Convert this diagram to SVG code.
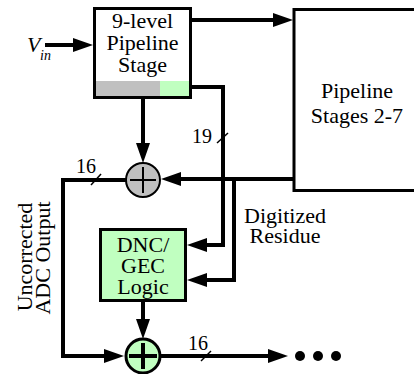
<svg xmlns="http://www.w3.org/2000/svg" width="414" height="374" viewBox="0 0 414 374" font-family="'Liberation Serif', 'DejaVu Serif', serif">
<style>
text{font-family:'Liberation Serif','DejaVu Serif',serif;fill:#000}
.t{font-size:22px;text-anchor:middle}
.n{font-size:20px}
.box{stroke:#000;stroke-width:3}
.c{fill:none;stroke:#000;stroke-width:4;stroke-linejoin:miter}
.tick{stroke:#000;stroke-width:1.5}
</style>
<defs>
<marker id="ah" markerUnits="userSpaceOnUse" markerWidth="22" markerHeight="16" refX="10" refY="7" orient="auto">
<path d="M0,0 L20,7 L0,14 z" fill="#000"/>
</marker>
</defs>
<rect width="414" height="374" fill="#fff"/>

<g id="stage1">
<rect x="94.5" y="8.5" width="96" height="89" fill="#fff" class="box"/>
<rect x="96" y="81" width="64" height="15" fill="#c0c0c0"/>
<rect x="160" y="81" width="29" height="15" fill="#c0ffc0"/>
<text class="t" x="142.5" y="28">9-level</text>
<text class="t" x="142.5" y="50">Pipeline</text>
<text class="t" x="142.5" y="72">Stage</text>
</g>

<g id="stages2-7">
<rect x="294" y="9.5" width="130" height="181" fill="#fff" class="box"/>
<text class="t" x="357" y="98">Pipeline</text>
<text class="t" x="357" y="123">Stages 2-7</text>
</g>

<g id="adder1">
<circle cx="143" cy="180" r="17" fill="#c0c0c0" stroke="#000" stroke-width="2"/>
<path d="M130,180 H156 M143,167 V193" stroke="#000" stroke-width="2"/>
</g>

<g id="dncgec">
<rect x="100.5" y="229.5" width="85" height="71" fill="#c0ffc0" class="box"/>
<text class="t" x="143" y="252">DNC/</text>
<text class="t" x="143" y="273">GEC</text>
<text class="t" x="143" y="294">Logic</text>
</g>

<g id="adder2">
<circle cx="143" cy="356" r="17" fill="#c0ffc0" stroke="#000" stroke-width="3"/>
<path d="M129,356 H157 M143,343 V369" stroke="#000" stroke-width="4"/>
</g>

<g id="output">
<circle cx="300" cy="356" r="5" fill="#000"/>
<circle cx="318" cy="356" r="5" fill="#000"/>
<circle cx="336" cy="356" r="5" fill="#000"/>
</g>

<g id="connectors">
<path class="c" d="M45,45 H83" marker-end="url(#ah)"/>
<path class="c" d="M192,20 H283" marker-end="url(#ah)"/>
<path class="c" d="M143,99 V153" marker-end="url(#ah)"/>
<path class="c" d="M192,87 H223 V245 H197" marker-end="url(#ah)"/>
<path class="c" d="M293,179 H171" marker-end="url(#ah)"/>
<path class="c" d="M234,179 V280 H197" marker-end="url(#ah)"/>
<path class="c" d="M126,180 H63 V356 H114" marker-end="url(#ah)"/>
<path class="c" d="M143,302 V329" marker-end="url(#ah)"/>
<path class="c" d="M160,356 H278" marker-end="url(#ah)"/>
<line class="tick" x1="91" y1="185" x2="101" y2="174"/>
<line class="tick" x1="217" y1="143" x2="228" y2="133"/>
<line class="tick" x1="201" y1="361" x2="211" y2="351"/>
</g>

<g id="labels">
<text x="27" y="52" style="font-size:22px;font-style:italic">V</text>
<text x="40" y="60" style="font-size:14px;font-style:italic">in</text>
<text class="n" x="76" y="173">16</text>
<text class="n" x="192" y="143">19</text>
<text class="n" x="188" y="350">16</text>
<text class="t" x="285" y="223">Digitized</text>
<text class="t" x="285" y="243">Residue</text>
<text class="t" transform="translate(32,257) rotate(-90)">Uncorrected</text>
<text class="t" transform="translate(50,258) rotate(-90)">ADC Output</text>
</g>
</svg>
